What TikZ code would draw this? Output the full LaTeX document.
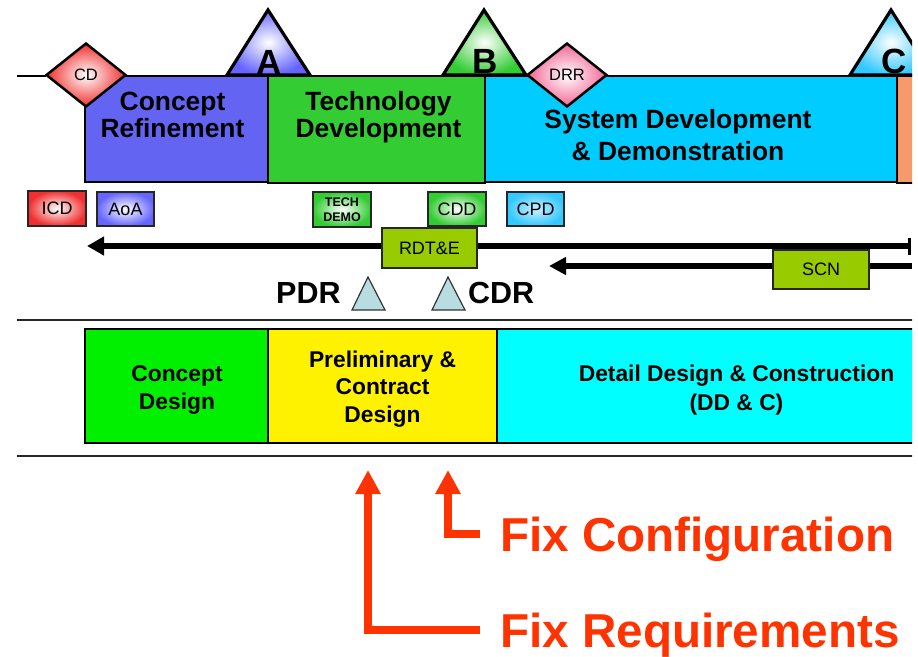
\documentclass[tikz,border=0pt]{standalone}
\usepackage{fontspec}
\setmainfont{Liberation Sans}
\usetikzlibrary{arrows.meta,shapes.geometric}

\definecolor{crblue}{HTML}{6464F2}
\definecolor{tdgreen}{HTML}{33CC33}
\definecolor{sdcyan}{HTML}{00CCFF}
\definecolor{prodorange}{HTML}{F79A6B}
\definecolor{cdgreen}{HTML}{00F000}
\definecolor{ddcyan}{HTML}{00FFFF}
\definecolor{moneygreen}{HTML}{99CC00}
\definecolor{fixred}{HTML}{FF3300}
\definecolor{revblue}{HTML}{B8DDE0}
\definecolor{tagred}{HTML}{F03030}
\definecolor{tagblue}{HTML}{6666FF}
\definecolor{taggreen}{HTML}{33CC33}
\definecolor{tagcyan}{HTML}{33C8FF}
\definecolor{drrpink}{HTML}{F0407A}

\newcommand\setfs[2]{\fontsize{#1}{#2}\selectfont}

\tikzset{
  phasebox/.style={draw=black, line width=2.5pt, inner sep=0pt},
  designbox/.style={draw=black, line width=1.8pt, inner sep=0pt},
  tagbox/.style={draw=black!85, line width=1.8pt, inner sep=0pt,
    minimum width=57pt, minimum height=34pt, font=\setfs{18}{20}},
  fundbox/.style={draw=black!85, line width=1.8pt, inner sep=0pt, fill=moneygreen,
    minimum height=39pt, font=\setfs{18}{20}},
  phaselbl/.style={inner sep=0pt, align=center, font=\bfseries\setfs{26.4}{27}},
  designlbl/.style={inner sep=0pt, align=center, font=\bfseries\setfs{22.8}{27.5}},
  milestone/.style={draw=black, line width=3.2pt, line join=miter},
  msletter/.style={inner sep=0pt, anchor=base, font=\bfseries\setfs{35}{36}},
  decision/.style={diamond, draw=black, line width=2.5pt, inner sep=0pt,
    minimum width=80pt, minimum height=64pt, font=\setfs{16.5}{18}},
  review/.style={draw=black!80, line width=1.2pt, fill=revblue, line join=miter},
  reviewlbl/.style={inner sep=0pt, anchor=base west, font=\bfseries\setfs{30.5}{32}},
  fundarrow/.style={line width=6pt},
  divider/.style={line width=2pt, black!85},
  fixarrow/.style={line width=8pt, fixred, line join=miter,
    -{Triangle[length=24pt,width=24pt]}},
  fixlbl/.style={inner sep=0pt, anchor=base west, text=fixred,
    font=\bfseries\setfs{47.6}{50}}
}

\begin{document}
\begin{tikzpicture}[x=1pt,y=-1pt]
\useasboundingbox (0,0) rectangle (918,656);
\begin{scope}
\clip (0,0) rectangle (912,656);

% ---- acquisition phases ----
\node[phasebox, fill=crblue, minimum width=183pt, minimum height=106pt] (cr) at (176.5,129) {};
\node[phasebox, fill=tdgreen, minimum width=217pt, minimum height=107pt] (td) at (376.5,129.5) {};
\node[phasebox, fill=sdcyan, minimum width=412pt, minimum height=106pt] (sd) at (691,129) {};
\node[phasebox, fill=prodorange, minimum width=60pt, minimum height=107pt] (pd) at (927,129.5) {};

% multi-line labels sit on the baseline of their last line
\node[phaselbl, anchor=base] (crL) at (172.5,137) {Concept\\Refinement};
\node[phaselbl, anchor=base] (tdL) at (378.5,137.5) {Technology\\Development};
\node[phaselbl, anchor=base, font=\bfseries\setfs{26.4}{32}] (sdL) at (678,160) {System Development\\\& Demonstration};

% ---- concept decision and design readiness review ----
\draw[line width=2pt] (17,76) -- (46,76);
\node[decision, inner color=white, outer color=tagred] (cd) at (86,75) {CD};
\node[decision, inner color=white, outer color=drrpink!80] (drr) at (567,75) {DRR};

% ---- milestones ----
\draw[milestone, inner color=white, outer color=tagblue] (227,75) -- (268,10) -- (310,75) -- cycle;
\draw[milestone, inner color=white, outer color=taggreen] (443,75) -- (484,10) -- (526,75) -- cycle;
\draw[milestone, inner color=white, outer color=tagcyan] (850,75) -- (891,10) -- (932,75) -- cycle;
\node[msletter] (msA) at (269,74) {A};
\node[msletter] (msB) at (485,73.5) {B};
\node[msletter] (msC) at (894,73.5) {C};

% ---- documents ----
\node[tagbox, minimum width=58pt, minimum height=35pt, inner color=white, outer color=tagred] (icd) at (57,208.5) {ICD};
\node[tagbox, inner color=white, outer color=tagblue] (aoa) at (125.5,209) {AoA};
\node[tagbox, minimum width=58pt, minimum height=35pt, inner color=white, outer color=taggreen,
      align=center, font=\bfseries\setfs{12.5}{15}] (demo) at (342,209.5) {TECH\\DEMO};
\node[tagbox, minimum width=58pt, inner color=white, outer color=taggreen] (cdd) at (457,209) {CDD};
\node[tagbox, inner color=tagcyan!25, outer color=tagcyan] (cpd) at (535.5,209) {CPD};

% ---- funding ----
\coordinate (rdteL) at (87,246);
\coordinate (rdteR) at (911,246);
\coordinate (scnL) at (549,266);
\coordinate (scnR) at (912,266);
\node[fundbox, minimum width=95pt, minimum height=40pt] (rdte) at (429.5,248) {};
\node[fundbox, minimum width=96pt] (scn) at (821,269.5) {};
\draw[fundarrow, -{Triangle[length=17pt,width=18pt]}] (rdte.west |- rdteL) -- (rdteL);
\draw[fundarrow, -{Bar[width=17pt,line width=3pt]}] (rdte.east |- rdteR) -- (rdteR);
\draw[fundarrow, -{Triangle[length=17pt,width=17pt]}] (scn.west |- scnL) -- (scnL);
\draw[fundarrow] (scn.east |- scnR) -- (scnR);
\node[fundbox, minimum width=95pt, minimum height=40pt] (rdteT) at (rdte) {RDT\&E};
\node[fundbox, minimum width=96pt] (scnT) at (scn) {SCN};

% ---- design reviews ----
\draw[review] (352,310) -- (368,277) -- (385,310) -- cycle;
\draw[review] (432,310) -- (448,277) -- (465,310) -- cycle;
\node[reviewlbl] (pdr) at (276,303) {PDR};
\node[reviewlbl] (cdr) at (468,303) {CDR};

% ---- ship design phases ----
\draw[divider] (17,320) -- (918,320);
\draw[divider] (17,456) -- (918,456);
\node[designbox, fill=cdgreen, minimum width=183pt, minimum height=114pt] (cdes) at (176.5,386) {};
\node[designbox, fill=yellow, minimum width=229pt, minimum height=114pt] (pcd) at (382.5,386) {};
\node[designbox, fill=ddcyan, minimum width=440pt, minimum height=114pt] (ddc) at (717,386) {};
\node[designlbl, anchor=base] (cdesL) at (177,409) {Concept\\Design};
\node[designlbl, anchor=base] (pcdL) at (382.5,422) {Preliminary \&\\Contract\\Design};
\node[designlbl, anchor=base, font=\bfseries\setfs{22.8}{29}] (ddcL) at (736.5,410) {Detail Design \& Construction\\(DD \& C)};

% ---- fix points ----
\node[fixlbl] (fixcfg) at (500,551) {Fix Configuration};
\node[fixlbl] (fixreq) at (500,647) {Fix Requirements};
\coordinate (cfgStart) at (480,534);
\coordinate (cfgTip) at (448,470);
\coordinate (reqStart) at (480,630);
\coordinate (reqTip) at (368,470);
\draw[fixarrow] (cfgStart) -| (cfgTip);
\draw[fixarrow] (reqStart) -| (reqTip);
\end{scope}
\end{tikzpicture}
\end{document}
